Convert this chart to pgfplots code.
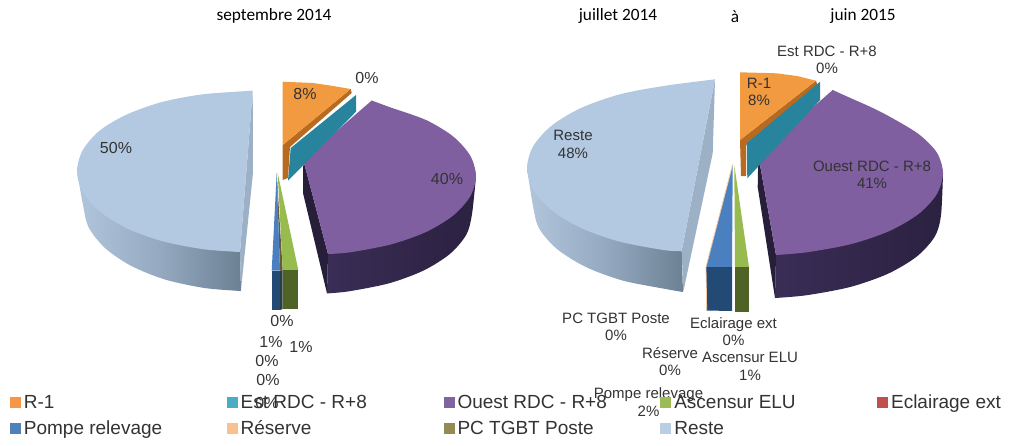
\documentclass[border=0pt]{standalone}
\usepackage{pgfplots}
\pgfplotsset{compat=1.18}
\usepackage{fontspec}
\setmainfont{Liberation Sans}
\newfontfamily\calfont{Carlito}
\definecolor{txt}{HTML}{333333}
\definecolor{rimL}{HTML}{B1C5DB}\definecolor{rimM}{HTML}{95AAC1}\definecolor{rimR}{HTML}{6D8194}
\definecolor{resteCut}{HTML}{9CB1C6}\definecolor{resteTop}{HTML}{B3C8E1}
\definecolor{purRimL}{HTML}{3A2D56}\definecolor{purRimR}{HTML}{2B2140}\definecolor{purCut}{HTML}{271E3A}\definecolor{purTop}{HTML}{7F5F9F}
\definecolor{oraCut}{HTML}{B96A21}\definecolor{oraTop}{HTML}{F29A3F}\definecolor{teal}{HTML}{27849C}
\definecolor{gapL}{HTML}{6A5A3A}\definecolor{bluTop}{HTML}{4A80C0}\definecolor{gre}{HTML}{98BB4F}
\definecolor{bluRim}{HTML}{234A75}\definecolor{greRim}{HTML}{4F6326}\definecolor{gapRim}{HTML}{2A3F3A}
\definecolor{tan}{HTML}{F5C9A0}
\definecolor{l1}{HTML}{F79646}\definecolor{l2}{HTML}{4BACC6}\definecolor{l3}{HTML}{8064A2}
\definecolor{l4}{HTML}{9BBB59}\definecolor{l5}{HTML}{C0504D}\definecolor{l6}{HTML}{4F81BD}
\definecolor{l7}{HTML}{FAC090}\definecolor{l8}{HTML}{948A54}\definecolor{l9}{HTML}{B9CDE5}
\pgfplotsset{
 p/.style={draw=none,no markers,forget plot},
 leg/.style={legend image code/.code={\fill[#1] (0pt,-5pt) rectangle (10pt,5pt);}},
}
\newcommand\lbl[1]{\makebox[202.4pt][l]{\hspace{3.5pt}#1}}
\newcommand\lbe[1]{\makebox[120pt][l]{\hspace{3.5pt}#1}}
\begin{document}
\begin{tikzpicture}
\begin{axis}[
 scale only axis,width=1011pt,height=445pt,
 xmin=0,xmax=1011,ymin=0,ymax=445,y dir=reverse,
 hide axis,clip=false,
 legend columns=5,legend cell align=left,
 legend style={at={(axis cs:10,394)},anchor=north west,draw=none,fill=none,inner sep=0pt,outer sep=0pt,
  font=\fontsize{19}{20}\selectfont\color{txt},column sep=0pt,row sep=9pt,
  nodes={inner sep=0pt,outer sep=0pt,text depth=3pt,text height=14pt},
  /tikz/every even column/.append style={column sep=4pt}},
]
% ---------- left pie
\addplot[p,smooth,left color=rimL,right color=rimR,middle color=rimM] coordinates {(77,171)(83,205)(88.6,227.3)(105,248)(131,265.8)(165,279.5)(204.5,288)(241,291)} -- (axis cs:240,252) --cycle;
\addplot[p,fill=resteCut] coordinates {(252.7,90.7)(253,173)(241,290)(240,252)} --cycle;
\addplot[p,smooth,fill=resteTop] coordinates {(252.7,90.7)(203,94.3)(162,102)(126.8,114.5)(99.8,130.5)(82.8,150)(77,171)(82.8,192)(99.8,211.5)(126.8,228.3)(162,241.1)(203,249.2)(240,252)} --cycle;
\addplot[p,smooth,left color=purRimL,right color=purRimR] coordinates {(476,176)(472,214)(466.3,234.7)(449.8,254)(423.4,270.6)(389,283.3)(349,291.3)(327,293.4)} -- (axis cs:328,254) --cycle;
\addplot[p,fill=purCut] coordinates {(303.3,160)(328,254)(327,293.4)(303,193)} --cycle;
\addplot[p,smooth,fill=purTop] coordinates {(371.7,100.5)(391,107.6)(426.2,120.1)(453.2,136.5)(470.2,155.6)(476,176)(470.2,196.4)(453.2,215.5)(426.2,231.9)(391,244.4)(350,252.3)(328,254)} --cycle;
\addplot[p,fill=purTop] coordinates {(303.3,160)(371.7,100.5)(390,180)(328,254)} --cycle;
\addplot[p,fill=oraCut] coordinates {(282.7,145)(350.7,89)(351.7,93)(290,147)(288,178)(282.7,180)} --cycle;
\addplot[p,fill=oraTop] coordinates {(282.7,81.7)(313,83)(330,85.5)(350.7,89)(282.7,145)} --cycle;
\addplot[p,fill=teal] coordinates {(356,95)(356,111.7)(288,180.7)(290.7,148)} --cycle;
\addplot[p,fill=gapL] coordinates {(276.7,173.3)(280,270.7)(282.7,270)} --cycle;
\addplot[p,fill=bluTop] coordinates {(276.7,173.3)(271.7,270.7)(280,270.7)} --cycle;
\addplot[p,fill=gre] coordinates {(277.7,173)(282.7,270)(298.3,270)} --cycle;
\addplot[p,fill=bluRim] coordinates {(271.7,270.7)(280,270.7)(280,310)(271.7,310)} --cycle;
\addplot[p,fill=greRim] coordinates {(282.7,270)(298.3,270)(298.3,309)(282.7,309)} --cycle;
\addplot[p,fill=gapRim] coordinates {(280,270.7)(282.7,270)(282.7,309)(280,310)} --cycle;
% ---------- right pie
\addplot[p,smooth,left color=rimL,right color=rimR,middle color=rimM] coordinates {(527,168)(533,206)(539,228.3)(557,249)(585.4,266.8)(622.5,280.5)(665.7,289)(683,292)} -- (axis cs:681.7,251) --cycle;
\addplot[p,fill=resteCut] coordinates {(715,79.3)(712.7,153.3)(683.3,291.7)(681.7,251)} --cycle;
\addplot[p,smooth,fill=resteTop] coordinates {(715,79.3)(664.1,85.9)(619.5,94.4)(581.2,107.9)(551.8,125.5)(533.3,146)(527,168)(533.3,190)(551.8,210.5)(581.2,228.1)(619.5,241.6)(664.1,250.1)(681.7,251)} --cycle;
\addplot[p,smooth,left color=purRimL,right color=purRimR] coordinates {(943,173)(941,215)(934.8,236.5)(916.8,256.5)(888,273.7)(850.5,286.9)(806.8,295.2)(775,298)} -- (axis cs:776,255) --cycle;
\addplot[p,fill=purCut] coordinates {(758.3,155)(776,255)(775,298)(757.7,187)} --cycle;
\addplot[p,smooth,fill=purTop] coordinates {(832.7,90)(851.5,98.5)(870,106.7)(889.4,116.5)(918.5,134)(936.8,152.5)(943,173)(936.8,194.2)(918.5,214)(889.4,231)(851.5,244)(807.4,252.2)(776,255)} --cycle;
\addplot[p,fill=purTop] coordinates {(758.3,155)(832.7,90)(850,175)(776,255)} --cycle;
\addplot[p,fill=oraCut] coordinates {(740,140)(816,80.7)(818,87)(746,145)(746,176)(741,176)} --cycle;
\addplot[p,fill=oraTop] coordinates {(740,72.3)(776.7,73.3)(797,76)(816,80.7)(740,140)} --cycle;
\addplot[p,fill=teal] coordinates {(820,81.7)(820,100)(747.3,178.3)(746.7,143.3)} --cycle;
\addplot[p,fill=bluTop] coordinates {(732.7,164.3)(706,267)(732,267)} --cycle;
\addplot[p,fill=gre] coordinates {(734.3,165)(735,267.3)(749,267.3)} --cycle;
\addplot[p,fill=bluRim] coordinates {(706,267)(732,267)(732,311)(706.7,310.5)} --cycle;
\addplot[p,fill=greRim] coordinates {(735,267.3)(749,267.3)(749,311.5)(735,311.5)} --cycle;
\addplot[p,draw=tan,line width=0.8pt] coordinates {(732.7,164.3)(706,267)(706.7,310.5)};
% ---------- legend
\addlegendimage{leg=l1}\addlegendentry{\lbl{R-1}}
\addlegendimage{leg=l2}\addlegendentry{\lbl{Est RDC - R+8}}
\addlegendimage{leg=l3}\addlegendentry{\lbl{Ouest RDC - R+8}}
\addlegendimage{leg=l4}\addlegendentry{\lbl{Ascensur ELU}}
\addlegendimage{leg=l5}\addlegendentry{\lbe{Eclairage ext}}
\addlegendimage{leg=l6}\addlegendentry{\lbl{Pompe relevage}}
\addlegendimage{leg=l7}\addlegendentry{\lbl{Réserve}}
\addlegendimage{leg=l8}\addlegendentry{\lbl{PC TGBT Poste}}
\addlegendimage{leg=l9}\addlegendentry{\lbl{Reste}}
% ---------- texts
\begin{scope}[every node/.style={text=black,font=\calfont\fontsize{17.3}{18}\selectfont}]
\node at (axis cs:274,16) {septembre 2014};
\node at (axis cs:618,16) {juillet 2014};
\node at (axis cs:735,17) {à};
\node at (axis cs:863,16) {juin 2015};
\end{scope}
\begin{scope}[every node/.style={text=txt,font=\fontsize{16}{17}\selectfont,inner sep=0pt}]
\node at (axis cs:305,94) {8\%};
\node at (axis cs:367,78) {0\%};
\node at (axis cs:116,148) {50\%};
\node at (axis cs:447,179) {40\%};
\node at (axis cs:282,321) {0\%};
\node at (axis cs:271,342) {1\%};
\node at (axis cs:301,347) {1\%};
\node at (axis cs:267,361) {0\%};
\node at (axis cs:268,380) {0\%};
\node at (axis cs:267,403) {0\%};
\end{scope}
\begin{scope}[every node/.style={text=txt,font=\fontsize{15}{17.3}\selectfont,inner sep=0pt,align=center}]
\node at (axis cs:827,59.5) {Est RDC - R+8\\0\%};
\node at (axis cs:759,92) {R-1\\8\%};
\node at (axis cs:573,144.5) {Reste\\48\%};
\node at (axis cs:872,174.5) {Ouest RDC - R+8\\41\%};
\node at (axis cs:616,326.5) {PC TGBT Poste\\0\%};
\node at (axis cs:733.5,331.5) {Eclairage ext\\0\%};
\node at (axis cs:670,361.5) {Réserve\\0\%};
\node at (axis cs:750,366.5) {Ascensur ELU\\1\%};
\node at (axis cs:648.5,402) {Pompe relevage\\2\%};
\end{scope}
\end{axis}
\pgfresetboundingbox
\path[use as bounding box] (0,0) rectangle (1011pt,445pt);
\end{tikzpicture}
\end{document}
